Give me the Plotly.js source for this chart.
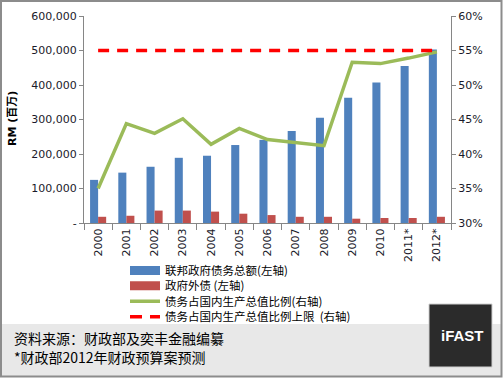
<!DOCTYPE html>
<html>
<head>
<meta charset="utf-8">
<script src="https://cdn.plot.ly/plotly-3.0.1.min.js"></script>
<style>
  html, body { margin: 0; padding: 0; background: #ffffff; }
  #chart { width: 503px; height: 378px; }
</style>
</head>
<body>
<div id="chart"></div>
<script>
// ---- data ----
const years = ["2000","2001","2002","2003","2004","2005","2006","2007","2008","2009","2010","2011*","2012*"];
const federalDebt = [125000,146000,163000,189000,195000,226000,241000,267000,305000,363000,407000,455000,503000];
const externalDebt = [18000,21000,36000,36000,33000,27000,23000,18000,18000,12500,14500,14500,18000];
const debtToGdp = [35.0,44.4,43.0,45.1,41.4,43.7,42.1,41.6,41.2,53.3,53.1,53.9,54.8];
const debtCeiling = [55,55,55,55,55,55,55,55,55,55,55,55,55];
const leftTickVals = [0,100000,200000,300000,400000,500000,600000];
const leftTickText = ["-","100,000","200,000","300,000","400,000","500,000","600,000"];
const seriesNames = ["联邦政府债务总额(左轴)","政府外债 (左轴)","债务占国内生产总值比例(右轴)","债务占国内生产总值比例上限  (右轴)"];
const yTitle = "RM (百万)";
const sourceLine1 = "资料来源：财政部及奕丰金融编纂";
const sourceLine2 = "*财政部2012年财政预算案预测";
const logoText = "iFAST";

// ---- geometry helpers (pixel -> paper) ----
const W = 503, H = 378;
const M = {l: 84, r: 52, t: 16, b: 155};
const PW = W - M.l - M.r, PH = H - M.t - M.b;
const px = x => (x - M.l) / PW;
const py = y => (H - M.b - y) / PH;

const BLUE = "#4f81bd", RED = "#c0504d", GREEN = "#9bbb59", DASHRED = "#ff0000";
const tickFont = {family: "DejaVu Sans, Verdana, sans-serif", size: 11, color: "#1a1a2a"};
const cjk = "Noto Sans CJK SC, sans-serif";

const traces = [
  {type: "bar", x: years, y: federalDebt, marker: {color: BLUE}, showlegend: false, name: seriesNames[0], hoverinfo: "skip"},
  {type: "bar", x: years, y: externalDebt, marker: {color: RED}, showlegend: false, name: seriesNames[1], hoverinfo: "skip"},
  {type: "scatter", mode: "lines", x: years, y: debtToGdp, yaxis: "y2", line: {color: GREEN, width: 3.5}, showlegend: false, name: seriesNames[2]},
  {type: "scatter", mode: "lines", x: years, y: debtCeiling, yaxis: "y2", line: {color: DASHRED, width: 3.5, dash: "11px,8px"}, showlegend: false, name: seriesNames[3]},
  // legend-only entries (one legend each, for Excel-like row spacing)
  {type: "scatter", mode: "lines", x: [null], y: [null], line: {color: BLUE, width: 9}, name: seriesNames[0], legend: "legend"},
  {type: "scatter", mode: "lines", x: [null], y: [null], line: {color: RED, width: 9}, name: seriesNames[1], legend: "legend2"},
  {type: "scatter", mode: "lines", x: [null], y: [null], line: {color: GREEN, width: 3.5}, name: seriesNames[2], legend: "legend3"},
  {type: "scatter", mode: "lines", x: [null], y: [null], line: {color: DASHRED, width: 3.5, dash: "12px,8px"}, name: seriesNames[3], legend: "legend4"}
];

const legendRows = [270.5, 285.8, 301.3, 316.7];
function legendAt(rowY) {
  return {
    x: px(125), y: py(rowY), xanchor: "left", yanchor: "middle",
    bgcolor: "rgba(0,0,0,0)", font: {family: cjk, size: 11.5, color: "#000"},
    itemwidth: 30, borderwidth: 0
  };
}

const layout = {
  width: W, height: H,
  margin: M,
  paper_bgcolor: "#ffffff", plot_bgcolor: "#ffffff",
  barmode: "group", bargap: 0.43, bargroupgap: 0,
  font: {family: cjk, size: 12, color: "#000"},
  xaxis: {
    type: "category", showline: true, linecolor: "#868686", linewidth: 1,
    ticks: "outside", tickson: "boundaries", ticklen: 6, tickcolor: "#868686",
    tickangle: -90, tickfont: tickFont, showgrid: false, zeroline: false, fixedrange: true
  },
  yaxis: {
    range: [0, 600000], tickvals: leftTickVals, ticktext: leftTickText,
    showline: true, linecolor: "#868686", ticks: "outside", ticklen: 4, tickcolor: "#868686",
    tickfont: tickFont, showgrid: false, zeroline: false, fixedrange: true
  },
  yaxis2: {
    overlaying: "y", side: "right", range: [30, 60], dtick: 5, ticksuffix: "%",
    showline: true, linecolor: "#868686", ticks: "outside", ticklen: 4, tickcolor: "#868686",
    tickfont: tickFont, showgrid: false, zeroline: false, fixedrange: true
  },
  showlegend: true,
  legend: legendAt(legendRows[0]),
  legend2: legendAt(legendRows[1]),
  legend3: legendAt(legendRows[2]),
  legend4: legendAt(legendRows[3]),
  shapes: [
    {type: "rect", xref: "paper", yref: "paper", x0: px(1), x1: px(501.5), y0: py(324), y1: py(376), fillcolor: "#e8e8e8", line: {width: 0}, layer: "below"},
    {type: "rect", xref: "paper", yref: "paper", x0: px(1), x1: px(501.5), y0: py(1), y1: py(376.5), fillcolor: "rgba(0,0,0,0)", line: {color: "#8c8c8c", width: 2}},
    {type: "rect", xref: "paper", yref: "paper", x0: px(429), x1: px(492), y0: py(304), y1: py(367), fillcolor: "#2b2b2b", line: {color: "#d0d0d0", width: 1}}
  ],
  annotations: [
    {xref: "paper", yref: "paper", x: px(12), y: py(119), text: "<b>" + yTitle + "</b>", textangle: -90, showarrow: false, xanchor: "center", yanchor: "middle", font: {family: "DejaVu Sans, " + cjk, size: 11, color: "#000"}},
    {xref: "paper", yref: "paper", x: px(12), y: py(338), text: sourceLine1, showarrow: false, xanchor: "left", yanchor: "middle", font: {family: cjk, size: 14, color: "#000"}},
    {xref: "paper", yref: "paper", x: px(12), y: py(356.5), text: sourceLine2, showarrow: false, xanchor: "left", yanchor: "middle", font: {family: cjk, size: 14, color: "#000"}},
    {xref: "paper", yref: "paper", x: px(462), y: py(335), text: "<b>" + logoText + "</b>", showarrow: false, xanchor: "center", yanchor: "middle", font: {family: "Liberation Sans, Arial, sans-serif", size: 15, color: "#ffffff"}}
  ]
};

Plotly.newPlot("chart", traces, layout, {staticPlot: true, displayModeBar: false});
</script>
</body>
</html>
